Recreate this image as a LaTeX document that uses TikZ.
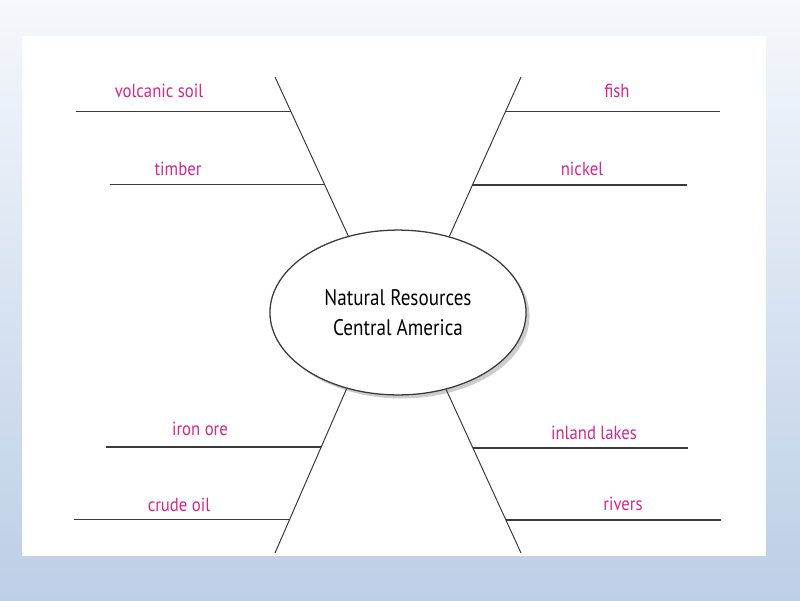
\documentclass[tikz,border=0pt]{standalone}
\usepackage{fontspec}
\setmainfont{PT Sans}
\newfontfamily\topicfont[FakeStretch=0.85]{PT Sans}
\newfontfamily\labelfont[FakeStretch=0.88]{PT Sans}
\usetikzlibrary{shapes.geometric,shadows,calc}
\definecolor{labelpink}{RGB}{214,38,140}
\definecolor{linegray}{RGB}{58,58,58}
\definecolor{bgtop}{RGB}{245,248,252}
\definecolor{bgbottom}{RGB}{188,206,230}

\begin{document}
\begin{tikzpicture}[x=0.025cm,y=-0.025cm,
  topic/.style={ellipse,draw=linegray,line width=0.9pt,fill=white,
    minimum width=6.4cm,minimum height=4.12cm,inner sep=0pt,align=center,
    font=\topicfont\fontsize{16}{21}\selectfont,
    drop shadow={shadow xshift=2.5pt,shadow yshift=-2.5pt,opacity=0.4}},
  spoke/.style={draw=linegray,line width=0.7pt},
  rule/.style={draw=linegray,line width=0.8pt},
  label/.style={text=labelpink,anchor=base,inner sep=0pt,
    font=\labelfont\fontsize{13.5}{15}\selectfont}]
  \useasboundingbox (0,0) rectangle (800,600);
  % slide background and white sheet
  \shade[top color=bgtop,bottom color=bgbottom] (0,0) rectangle (800,600);
  \fill[white] (22,36) rectangle (766,556);

  \node[topic] (topic) at (398,312.5) {Natural Resources\\Central America};

  % spokes out of the ellipse
  \coordinate (ul0) at (topic.123.5);
  \coordinate (ur0) at (topic.56.5);
  \coordinate (ll0) at (topic.236.7);
  \coordinate (lr0) at (topic.302.7);
  \coordinate (ul1) at (275,77);
  \coordinate (ur1) at (521,77);
  \coordinate (ll1) at (275,553);
  \coordinate (lr1) at (521,553);
  \foreach \sp in {ul,ur,ll,lr}{
    \draw[spoke] (\sp0) -- (\sp1);
  }

  % rules branching off the spokes
  \foreach \name/\sp/\pos/\len/\lw in {volc/ul/0.783/-215/0.8pt, timb/ul/0.322/-215/0.8pt,
      fish/ur/0.783/215/0.8pt, nick/ur/0.322/215/0.8pt,
      iron/ll/0.356/-215/1.6pt, crud/ll/0.798/-215/0.8pt,
      lake/lr/0.356/215/1.6pt, rivr/lr/0.798/215/0.8pt}{
    \coordinate (\name A) at ($(\sp0)!\pos!(\sp1)$);
    \coordinate (\name B) at ($(\name A)+(\len,0)$);
    \draw[rule,line width=\lw] (\name A) -- (\name B);
  }

  % labels above the rules
  \node[label] (volcLbl) at (159,97.5) {volcanic soil};
  \node[label] (timbLbl) at (178,175) {timber};
  \node[label] (fishLbl) at (617,97.5) {fish};
  \node[label] (nickLbl) at (582,175) {nickel};
  \node[label] (ironLbl) at (200,435) {iron ore};
  \node[label] (crudLbl) at (179,511) {crude oil};
  \node[label] (lakeLbl) at (594,439) {inland lakes};
  \node[label] (rivrLbl) at (623,510.5) {rivers};
\end{tikzpicture}
\end{document}
